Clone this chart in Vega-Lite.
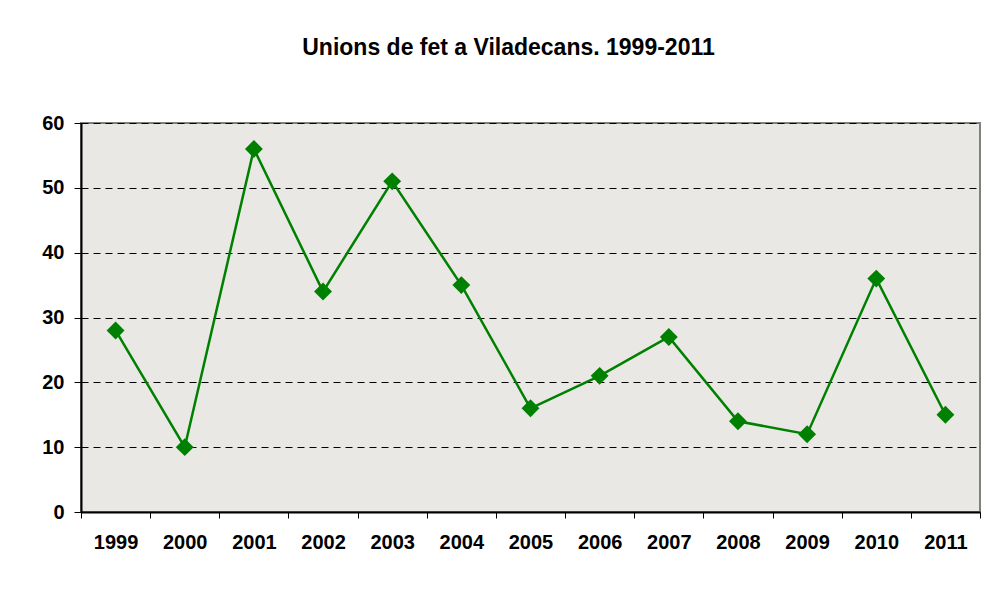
{
  "$schema": "https://vega.github.io/schema/vega-lite/v6.json",
  "autosize": {"type": "none"},
  "width": 899,
  "height": 389,
  "padding": {"left": 81, "top": 123, "right": 21, "bottom": 78},
  "background": "white",
  "title": {
    "text": "Unions de fet a Viladecans. 1999-2011",
    "font": "Liberation Sans",
    "fontSize": 23,
    "fontWeight": "bold",
    "color": "black",
    "anchor": "middle",
    "dx": -22,
    "offset": 53
  },
  "data": {
    "values": [
      {"year": "1999", "value": 28},
      {"year": "2000", "value": 10},
      {"year": "2001", "value": 56},
      {"year": "2002", "value": 34},
      {"year": "2003", "value": 51},
      {"year": "2004", "value": 35},
      {"year": "2005", "value": 16},
      {"year": "2006", "value": 21},
      {"year": "2007", "value": 27},
      {"year": "2008", "value": 14},
      {"year": "2009", "value": 12},
      {"year": "2010", "value": 36},
      {"year": "2011", "value": 15}
    ]
  },
  "encoding": {
    "x": {
      "field": "year",
      "type": "ordinal",
      "scale": {"type": "band", "paddingInner": 0, "paddingOuter": 0},
      "axis": {
        "title": null,
        "labelAngle": 0,
        "tickBand": "extent",
        "tickSize": 6,
        "tickColor": "black",
        "tickWidth": 1,
        "domainColor": "black",
        "domainWidth": 2,
        "labelFont": "Liberation Sans",
        "labelFontSize": 20,
        "labelFontWeight": "bold",
        "labelColor": "black",
        "labelPadding": 14,
        "grid": false
      }
    },
    "y": {
      "field": "value",
      "type": "quantitative",
      "scale": {"domain": [0, 60], "nice": false},
      "axis": {
        "title": null,
        "values": [0, 10, 20, 30, 40, 50, 60],
        "tickSize": 7,
        "tickColor": "black",
        "domainColor": "black",
        "domainWidth": 2,
        "labelFont": "Liberation Sans",
        "labelFontSize": 20,
        "labelFontWeight": "bold",
        "labelColor": "black",
        "labelPadding": 10,
        "grid": true,
        "gridColor": "black",
        "gridDash": [7, 5],
        "gridWidth": 1
      }
    }
  },
  "layer": [
    {
      "mark": {"type": "line", "color": "#008000", "strokeWidth": 2.5}
    },
    {
      "mark": {"type": "point", "shape": "diamond", "filled": true, "color": "#008000", "size": 320, "opacity": 1}
    }
  ],
  "config": {
    "view": {"fill": "#e9e8e4", "stroke": "#808080", "strokeWidth": 2}
  }
}
